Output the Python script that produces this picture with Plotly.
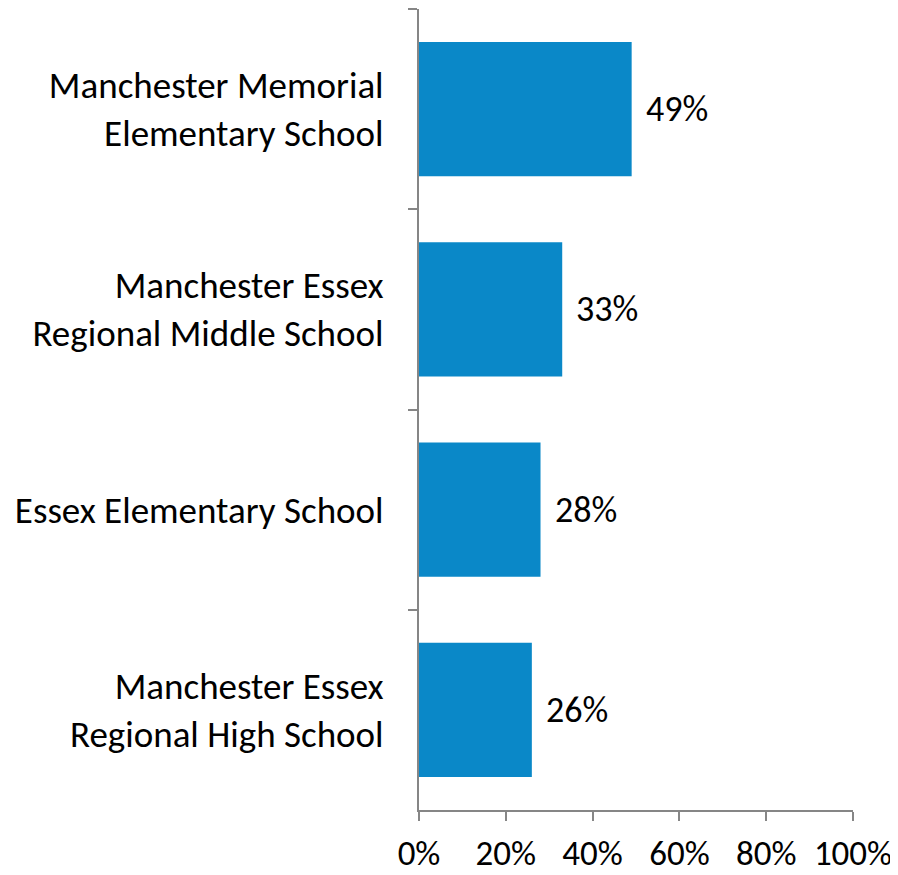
import plotly.graph_objects as go

schools = [
    "Manchester Memorial<br>Elementary School",
    "Manchester Essex<br>Regional Middle School",
    "Essex Elementary School",
    "Manchester Essex<br>Regional High School",
]
values = [0.49, 0.33, 0.28, 0.26]
labels = ["49%", "33%", "28%", "26%"]

bar_color = "#0A88C8"
axis_color = "#868686"
font_family = "Carlito, Lato, sans-serif"

fig = go.Figure(
    go.Bar(
        y=schools,
        x=values,
        orientation="h",
        marker=dict(color=bar_color, line=dict(width=0)),
        width=0.67,
    )
)

annotations = [
    dict(
        x=v, y=s, text=t, xref="x", yref="y",
        xanchor="left", yanchor="middle", xshift=12, showarrow=False,
        font=dict(family=font_family, size=36, color="#000000"),
    )
    for s, v, t in zip(schools, values, labels)
]

# page body has an 8px default margin, so the figure is sized to fit
fig.update_layout(
    width=890, height=867,
    margin=dict(l=411, r=45, t=1, b=65, autoexpand=False),
    paper_bgcolor="white", plot_bgcolor="white",
    showlegend=False,
    annotations=annotations,
    font=dict(family=font_family, size=36, color="#000000"),
)
fig.update_xaxes(
    range=[0, 1], tickformat=".0%", dtick=0.2, tick0=0,
    showgrid=False, zeroline=False, automargin=False,
    showline=True, linecolor=axis_color, linewidth=2,
    ticks="outside", ticklen=9, tickcolor=axis_color, tickwidth=2,
    ticklabelstandoff=2,
    tickfont=dict(family=font_family, size=35, color="#000000"),
)
fig.update_yaxes(
    autorange="reversed",
    showgrid=False, zeroline=False, automargin=False,
    showline=True, linecolor=axis_color, linewidth=2,
    ticks="outside", ticklen=9, tickcolor=axis_color, tickwidth=2,
    tickson="boundaries",
    ticklabelstandoff=26,
    tickfont=dict(family=font_family, size=37, color="#000000"),
)

fig.write_html("out.html")
